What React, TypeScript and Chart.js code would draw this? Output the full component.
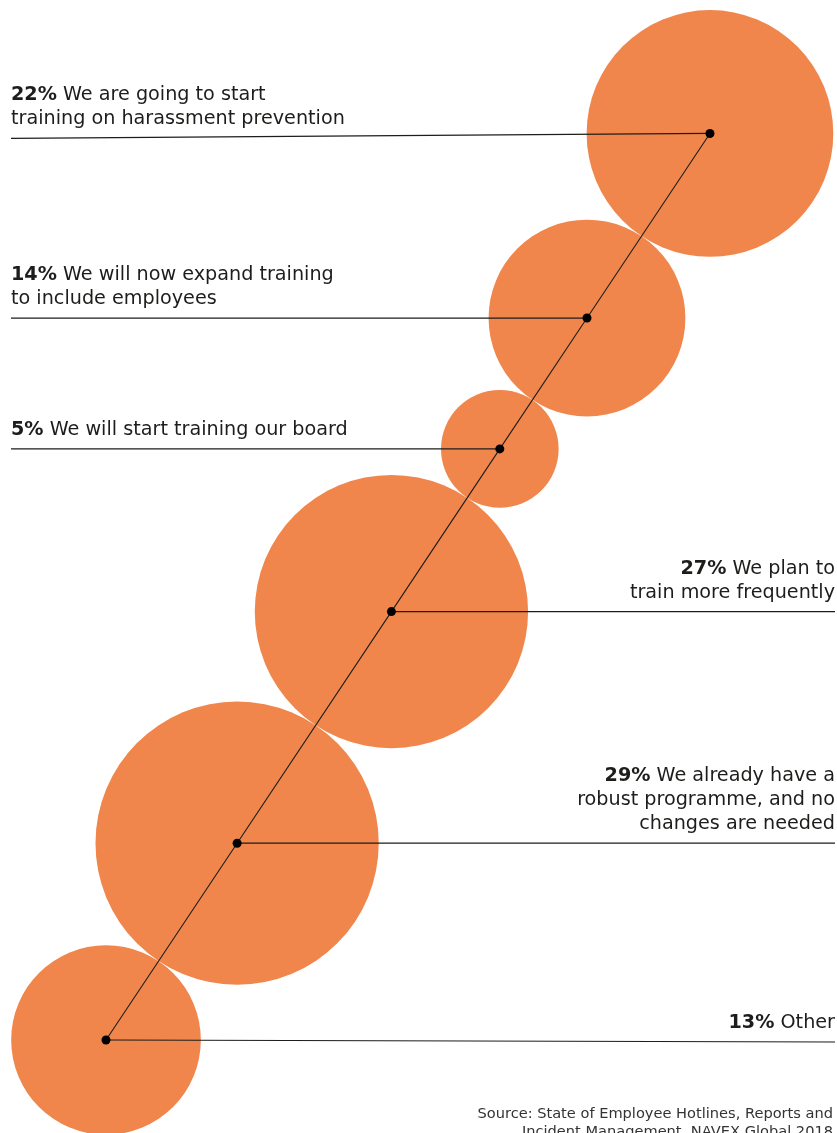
import React, { useEffect, useRef } from "react";
import { Chart, registerables } from "chart.js";

Chart.register(...registerables);

// ---------- data ----------
const percents = [22, 14, 5, 27, 29, 13];
const percentLabels = ["22%", "14%", "5%", "27%", "29%", "13%"];
const descriptions: string[][] = [
  ["We are going to start", "training on harassment prevention"],
  ["We will now expand training", "to include employees"],
  ["We will start training our board"],
  ["We plan to", "train more frequently"],
  ["We already have a", "robust programme, and no", "changes are needed"],
  ["Other"],
];
const labelSides = ["left", "left", "left", "right", "right", "right"];
const sourceLines = [
  "Source: State of Employee Hotlines, Reports and",
  "Incident Management, NAVEX Global 2018",
];

// ---------- style / layout ----------
const W = 837;
const H = 1133;
const PX_PER_UNIT = 26.3; // pixels per sqrt(percent)
const ORIGIN_PX = { x: 106, y: 1040 }; // where the last bubble sits
const DIR = { x: 0.5545, y: 0.8323 }; // diagonal direction (up-right)
const ORANGE = "#F0864B";
const INK = "#1d1d1b";
const FONT = "'DejaVu Sans', sans-serif";
const FONT_SIZE = 19.2;
const leaderTilt = [5, 0, 0, 0, 0, 2];

// bubbles placed tangent to each other along the diagonal (size-derived layout)
const sizeUnits = percents.map((p) => Math.sqrt(p));
const along: number[] = new Array(percents.length).fill(0);
for (let i = percents.length - 2; i >= 0; i--) {
  along[i] = along[i + 1] + sizeUnits[i + 1] + sizeUnits[i];
}
const bubblePoints = percents.map((p, i) => ({
  x: along[i] * DIR.x,
  y: along[i] * DIR.y,
  r: PX_PER_UNIT * sizeUnits[i],
}));

const labelPlugin = {
  id: "labelPlugin",
  afterDatasetDraw(chart: any, args: any) {
    if (args.index !== 1) return; // after bubbles
    const ctx = chart.ctx;
    const meta = chart.getDatasetMeta(1);
    ctx.save();
    ctx.strokeStyle = INK;
    ctx.lineWidth = 1.2;
    meta.data.forEach((el: any, i: number) => {
      const cx = el.x;
      const cy = el.y;
      ctx.beginPath();
      if (labelSides[i] === "left") {
        ctx.moveTo(11, cy + leaderTilt[i]);
        ctx.lineTo(cx, cy);
      } else {
        ctx.moveTo(cx, cy);
        ctx.lineTo(835, cy + leaderTilt[i]);
      }
      ctx.stroke();
    });
    ctx.restore();
  },
  afterDraw(chart: any) {
    const ctx = chart.ctx;
    const meta = chart.getDatasetMeta(1);
    ctx.save();
    ctx.fillStyle = INK;
    ctx.textBaseline = "alphabetic";
    const bold = `bold ${FONT_SIZE}px ${FONT}`;
    const reg = `${FONT_SIZE}px ${FONT}`;
    meta.data.forEach((el: any, i: number) => {
      const lines = descriptions[i];
      const lineY = el.y + leaderTilt[i];
      const lastBase = lineY - 14;
      const firstBase = lastBase - (lines.length - 1) * 24;
      lines.forEach((txt, li) => {
        const y = firstBase + li * 24;
        ctx.font = reg;
        const rw = ctx.measureText(li === 0 ? " " + txt : txt).width;
        let bw = 0;
        if (li === 0) {
          ctx.font = bold;
          bw = ctx.measureText(percentLabels[i]).width;
        }
        const startX = labelSides[i] === "left" ? 11 : 835 - (bw + rw);
        ctx.textAlign = "left";
        if (li === 0) {
          ctx.font = bold;
          ctx.fillText(percentLabels[i], startX, y);
          ctx.font = reg;
          ctx.fillText(" " + txt, startX + bw, y);
        } else {
          ctx.font = reg;
          ctx.fillText(txt, startX, y);
        }
      });
    });
    // source
    ctx.font = `14.6px ${FONT}`;
    ctx.fillStyle = "#333";
    ctx.textAlign = "right";
    ctx.fillText(sourceLines[0], 833, 1118);
    ctx.fillText(sourceLines[1], 833, 1136);
    ctx.restore();
  },
};

export default function App() {
  const ref = useRef<HTMLCanvasElement | null>(null);
  useEffect(() => {
    document.body.style.margin = "0";
    const canvas = ref.current!;
    const chart = new Chart(canvas, {
      type: "bubble",
      data: {
        datasets: [
          {
            type: "line" as any,
            data: bubblePoints.map((p) => ({ x: p.x, y: p.y })),
            borderColor: INK,
            borderWidth: 1.1,
            pointRadius: 4.5,
            pointBackgroundColor: "#000",
            pointBorderWidth: 0,
            showLine: true,
            fill: false,
            tension: 0,
            order: 0,
            clip: false,
          } as any,
          {
            data: bubblePoints,
            backgroundColor: ORANGE,
            borderWidth: 0,
            hoverRadius: 0,
            order: 1,
            clip: false,
          } as any,
        ],
      },
      options: {
        responsive: false,
        animation: false,
        events: [],
        layout: { padding: 0, autoPadding: false },
        plugins: { legend: { display: false }, tooltip: { enabled: false } },
        scales: {
          x: {
            type: "linear",
            display: false,
            min: -ORIGIN_PX.x / PX_PER_UNIT,
            max: (W - ORIGIN_PX.x) / PX_PER_UNIT,
          },
          y: {
            type: "linear",
            display: false,
            min: -(H - ORIGIN_PX.y) / PX_PER_UNIT,
            max: ORIGIN_PX.y / PX_PER_UNIT,
          },
        },
      },
      plugins: [labelPlugin],
    });
    return () => chart.destroy();
  }, []);
  return (
    <div style={{ width: W, height: H, overflow: "hidden", background: "#fff" }}>
      <canvas ref={ref} width={W} height={H} style={{ width: W, height: H, display: "block" }} />
    </div>
  );
}
